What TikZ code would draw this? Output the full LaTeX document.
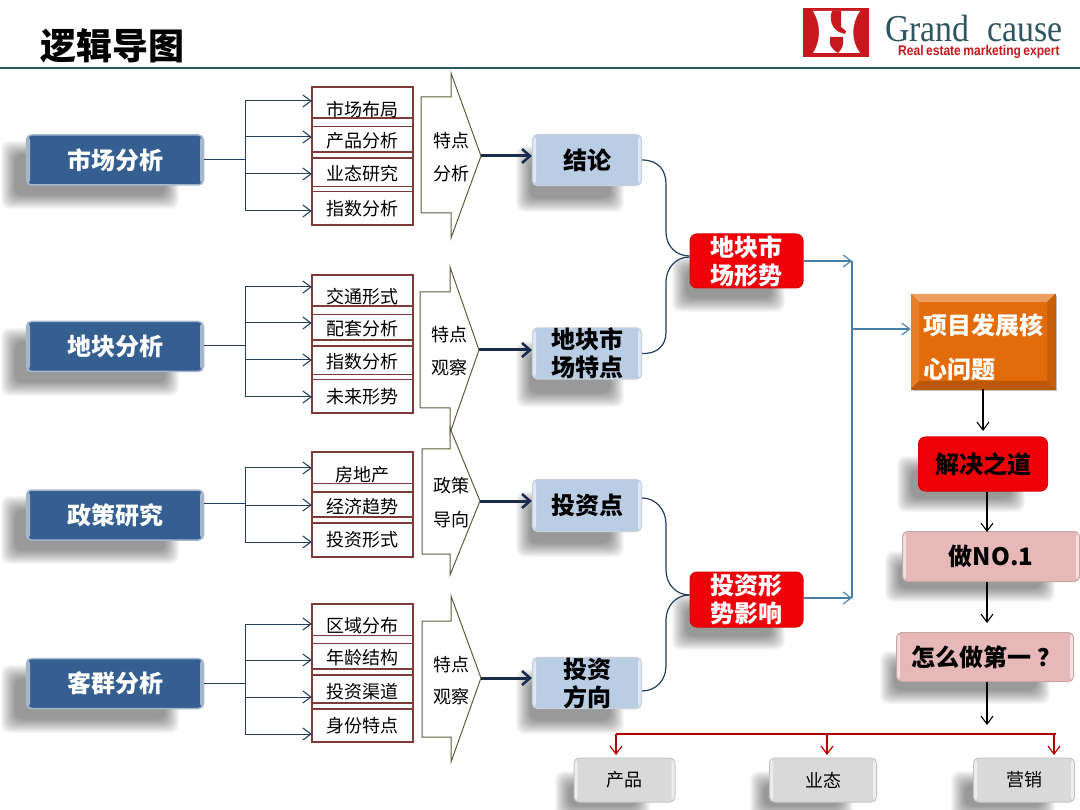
\documentclass[tikz,border=0pt]{standalone}
\usepackage{fontspec}
\setmainfont{Noto Sans CJK SC}
\setsansfont{Liberation Sans}
\newfontfamily\logoserif[FakeStretch=0.89]{Liberation Serif}
\newfontfamily\logosans[FakeStretch=0.86]{Liberation Sans}
\usetikzlibrary{arrows.meta}
\definecolor{navy}{HTML}{355F91}
\definecolor{paleblue}{HTML}{B9CDE5}
\definecolor{cellred}{HTML}{7F3A3A}
\definecolor{olive}{HTML}{5E5E3C}
\definecolor{linkblue}{HTML}{24405E}
\definecolor{darknavy}{HTML}{1A2C4A}
\definecolor{steelb}{HTML}{4A7FA5}
\definecolor{teal}{HTML}{2F5560}
\definecolor{hotred}{HTML}{F00008}
\definecolor{ornge}{HTML}{E36C0A}
\definecolor{rose}{HTML}{E6B9B8}
\definecolor{greyb}{HTML}{D9D9D9}
\definecolor{logored}{HTML}{C8171E}
\newcommand{\softshadow}[4]{%
  \foreach \g in {14,13,...,0}{%
    \fill[black,opacity=0.032,rounded corners=8pt]
      ({#1-\g},{#2-\g}) rectangle ({#3+\g},{#4+\g});}}
\newcommand{\bigarr}[9]{%
  \draw[bigarrow] (#2,#5) -- (#3,#5) -- (#3,#1) -- (#4,#6) -- (#3,#8) -- (#3,#7) -- (#2,#7) -- cycle;
  \coordinate (#9) at (#4,#6);}
\newcommand{\celllines}[4]{%
  \foreach \yy/\wd in {#4}{\draw[cellred,line width=\wd pt] (#1,\yy) -- (#2,\yy);}}
\tikzset{
  x=1pt,y=-1pt,
  open/.style={-{Straight Barb[length=8pt,width=12pt,line width=1.1pt]}},
  gloss/.style={path picture={
     \fill[white,opacity=0.55] (path picture bounding box.north west) rectangle ([xshift=3.5pt]path picture bounding box.south west);
     \fill[white,opacity=0.55] (path picture bounding box.north east) rectangle ([xshift=-3.5pt]path picture bounding box.south east);}},
  navybox/.style={gloss,draw=white!55!navy,line width=1.5pt,fill=navy,rounded corners=5pt,text=white,font=\bfseries\fontsize{24}{28}\selectfont,minimum width=177pt,minimum height=50pt,inner sep=0pt},
  paleb/.style={gloss,draw=white!50!paleblue!80!gray,line width=1.2pt,fill=paleblue,rounded corners=5pt,text=black,font=\bfseries\fontsize{24}{28}\selectfont,minimum width=109pt,inner sep=0pt,align=center},
  redbox/.style={draw=red!85!black,line width=1pt,fill=hotred,rounded corners=7pt,inner sep=0pt,align=center,font=\bfseries\fontsize{24}{28}\selectfont},
  rosebox/.style={gloss,draw=rose!70!gray,line width=1pt,fill=rose,rounded corners=5pt,text=black,font=\bfseries\fontsize{24}{28}\selectfont,inner sep=0pt},
  greybox/.style={gloss,draw=white!55!gray,line width=1pt,fill=greyb,rounded corners=5pt,text=black,font=\fontsize{18}{22}\selectfont,minimum height=44pt,inner sep=0pt},
  celltxt/.style={font=\fontsize{18}{20}\selectfont,inner sep=0pt,text=black},
  cellframe/.style={draw=cellred,line width=1.1pt,fill=white},
  arrowtxt/.style={font=\fontsize{18}{20}\selectfont,inner sep=0pt},
  feed/.style={draw=linkblue,line width=1pt},
  fat/.style={draw=darknavy,line width=3pt,-{Straight Barb[length=8pt,width=14pt,line width=2.5pt]}},
  bigarrow/.style={draw=olive,line width=1pt,fill=white},
  curve/.style={draw=linkblue,line width=1.2pt},
  steel/.style={draw=steelb,line width=1.1pt},
  steeltip/.style={steel,-{Straight Barb[length=8pt,width=12pt,line width=1.1pt]}},
  ink/.style={draw=black,line width=1.2pt,open},
  crimson/.style={draw=red!70!black,line width=1.8pt},
  crimsontip/.style={draw=red!70!black,line width=1.3pt,-{Straight Barb[length=8pt,width=12pt,line width=1.2pt]}},
}
\begin{document}
\begin{tikzpicture}
\useasboundingbox (0,0) rectangle (1080,810);
\fill[white] (0,0) rectangle (1080,810);
% header
\node[anchor=west,inner sep=0pt,font=\bfseries\fontsize{36}{40}\selectfont] (title) at (40,46) {逻辑导图};
\draw[teal,line width=2pt] (0,68) -- (1080,68);
% logo
\fill[logored] (803,8) rectangle (869,57);
\fill[white] (813,11) -- (860,11) .. controls (851,24) and (851,41) .. (860,53) -- (813,53) .. controls (821,41) and (821,24) .. (813,11) -- cycle;
\fill[logored] (832,11) .. controls (829,20) and (832,28) .. (839,32) -- (845,34) -- (846,31) -- (841,27) -- (841,11) -- cycle;
\fill[logored] (830,37) -- (843,37) -- (843,44) .. controls (842,49) and (840,51) .. (838,53) .. controls (834,51) and (831,47) .. (830,44) -- cycle;
\node[anchor=west,inner sep=0pt,text=teal,font=\logoserif\fontsize{38}{40}\selectfont] (brand) at (885,29) {Grand\hspace{18pt}cause};
\node[anchor=west,inner sep=0pt,text=logored,font=\logosans\bfseries\fontsize{14}{15}\selectfont] (slogan) at (898,52) {Real\hspace{2.5pt}estate\hspace{2.5pt}marketing\hspace{2.5pt}expert};
% shadows
\softshadow{15}{155}{165}{195}
\softshadow{15}{342}{165}{382}
\softshadow{15}{510}{165}{550}
\softshadow{15}{679}{165}{719}
\softshadow{530}{160}{610}{198}
\softshadow{530}{355}{610}{393}
\softshadow{530}{505}{610}{543}
\softshadow{530}{683}{610}{720}
\softshadow{686}{270}{771}{298}
\softshadow{686}{608}{771}{636}
\softshadow{911}{470}{1011}{498}
\softshadow{899}{565}{1041}{588}
\softshadow{894}{665}{1036}{690}
\softshadow{569}{785}{636}{806}
\softshadow{764}{785}{839}{806}
\softshadow{965}{785}{1041}{806}
% left boxes
\node[navybox] (m1) at (115,160) {市场分析};
\node[navybox] (m2) at (115,346.5) {地块分析};
\node[navybox] (m3) at (115,515) {政策研究};
\node[navybox] (m4) at (115,683.5) {客群分析};
% cell frames and rules
\draw[cellframe] (312,87) rectangle (413,225);
\celllines{312}{413}{}{118/1.5,126/0.8,152/1.5,158/1.5,186/0.8,191/0.8}
\draw[cellframe] (312,275) rectangle (413,413);
\celllines{312}{413}{}{306/1.5,314/0.8,340/1.5,346/1.5,374/0.8,379/0.8}
\draw[cellframe] (312,452) rectangle (413,557);
\celllines{312}{413}{}{483/0.8,492/1.5,517/1.5,523/1.5}
\draw[cellframe] (312,604) rectangle (413,742);
\celllines{312}{413}{}{635/0.8,643/0.8,669/1.5,675/1.5,703/1.5,709/1.5}
\foreach \nm/\yy/\tx in {a1/110/市场布局,a2/141/产品分析,a3/174/业态研究,a4/209/指数分析,
  b1/297/交通形式,b2/329/配套分析,b3/362/指数分析,b4/397/未来形势,
  c1/475/房地产,c2/507/经济趋势,c3/540/投资形式,
  d1/626/区域分布,d2/658/年龄结构,d3/692/投资渠道,d4/726/身份特点}{
  \node[celltxt,minimum width=101pt] (\nm) at (362.5,\yy) {\tx};
}
% feeds
\foreach \src/\yy/\tg/\ty in {m1/160/a1/101,m1/160/a2/137,m1/160/a3/174,m1/160/a4/211,
  m2/346/b1/287,m2/346/b2/323,m2/346/b3/360,m2/346/b4/397,
  m3/503/c1/468,m3/503/c2/505,m3/503/c3/542,
  m4/683/d1/624,m4/683/d2/660,m4/683/d3/697,m4/683/d4/734}{
  \draw[feed,open] (\src.east |- 0,\yy) -- (245,\yy) -- (245,\ty) -- (\tg.west |- 0,\ty);
}
% pentagon arrows
\bigarr{73}{421}{451}{481}{97}{156}{213}{238}{p1}
\bigarr{267}{420}{450}{479}{292}{350}{408}{433}{p2}
\bigarr{428}{422}{450}{480}{449}{501}{554}{575}{p3}
\bigarr{596}{422}{451}{481}{621}{678}{737}{762}{p4}
\node[arrowtxt] (p1a) at (451,141) {特点};
\node[arrowtxt] (p1b) at (451,174) {分析};
\node[arrowtxt] (p2a) at (449,335) {特点};
\node[arrowtxt] (p2b) at (449,368) {观察};
\node[arrowtxt] (p3a) at (451,486) {政策};
\node[arrowtxt] (p3b) at (451,520) {导向};
\node[arrowtxt] (p4a) at (451,665) {特点};
\node[arrowtxt] (p4b) at (451,697) {观察};
% mid boxes
\node[paleb,minimum height=51pt] (n1) at (587,160) {结论};
\node[paleb,minimum height=50pt] (n2) at (587,353.5) {地块市\\场特点};
\node[paleb,minimum height=52pt] (n3) at (587,505.5) {投资点};
\node[paleb,minimum height=51pt] (n4) at (587,683) {投资\\方向};
\draw[fat] (p1) -- (n1.west |- p1);
\draw[fat] (p2) -- (n2.west |- p2);
\draw[fat] (p3) -- (n3.west |- p3);
\draw[fat] (p4) -- (n4.west |- p4);
% red boxes
\node[redbox,text=white,minimum width=113pt,minimum height=54pt] (r1) at (746.5,261) {地块市\\场形势};
\node[redbox,text=white,minimum width=113pt,minimum height=55pt] (r2) at (746.5,599.5) {投资形\\势影响};
% curved joins
\draw[curve] (n1.east) .. controls (658,160) and (666,170) .. (666,184) -- (666,232) .. controls (666,246) and (676,256) .. (r1.west |- 0,256);
\draw[curve] (n2.east) .. controls (658,354) and (666,345) .. (666,332) -- (666,282) .. controls (666,268) and (676,257) .. (r1.west |- 0,257);
\draw[curve] (n3.east |- 0,498) .. controls (656,498) and (666,510) .. (666,524) -- (666,570) .. controls (666,584) and (676,595) .. (r2.west |- 0,595);
\draw[curve] (n4.east |- 0,691) .. controls (656,691) and (666,680) .. (666,666) -- (666,620) .. controls (666,606) and (676,595) .. (r2.west |- 0,595);
% right column
\fill[black,opacity=0.25] (913,296) rectangle (1057,391);
\node[draw=ornge!85!black,line width=0.8pt,fill=ornge,minimum width=144pt,minimum height=95pt,inner sep=0pt] (core) at (983,341.5) {};
\fill[ornge!65!white] (911,294) -- (1055,294) -- (1047,302) -- (919,302) -- cycle;
\fill[ornge!88!white] (911,294) -- (919,302) -- (919,381) -- (911,389) -- cycle;
\fill[ornge!88!black] (1055,294) -- (1047,302) -- (1047,381) -- (1055,389) -- cycle;
\fill[ornge!82!black] (911,389) -- (919,381) -- (1047,381) -- (1055,389) -- cycle;
\node[anchor=west,inner sep=0pt,text=white,font=\bfseries\fontsize{24}{28}\selectfont] (core1) at (923,325) {项目发展核};
\node[anchor=west,inner sep=0pt,text=white,font=\bfseries\fontsize{24}{28}\selectfont] (core2) at (923,369) {心问题};
\node[redbox,text=black,minimum width=129pt,minimum height=54pt] (sol) at (983,464) {解决之道};
\node[rosebox,minimum width=177pt,minimum height=50pt] (no1) at (991,556.5) {做NO.1};
\node[rosebox,minimum width=177pt,minimum height=49pt] (how) at (985,657) {\hspace{3pt}怎么做第一\hspace{7pt}？};
\coordinate (busin) at (987,725);
\draw[steeltip] (r1.east) -- (852,261);
\draw[steeltip] (r2.east |- 0,598) -- (852,598);
\draw[steel] (852,261) -- (852,598);
\draw[steeltip] (852,329) -- (core.west |- 0,329);
\draw[ink] (core.south) -- (sol.north |- 0,431);
\draw[ink] (sol.south -| 987,0) -- (987,532);
\draw[ink] (no1.south -| 987,0) -- (987,623);
\draw[ink] (how.south -| 987,0) -- (busin);
% bottom row
\node[greybox,minimum width=101pt] (g1) at (624.5,780) {产品};
\node[greybox,minimum width=107pt] (g2) at (823,780) {业态};
\node[greybox,minimum width=101pt] (g3) at (1024,780) {营销};
\draw[crimson] (1056,734) -- (616,734);
\foreach \xx/\tg in {616/g1,827/g2,1054/g3}{
  \draw[crimsontip] (\xx,734) -- (\xx,755);
}
\end{tikzpicture}
\end{document}
